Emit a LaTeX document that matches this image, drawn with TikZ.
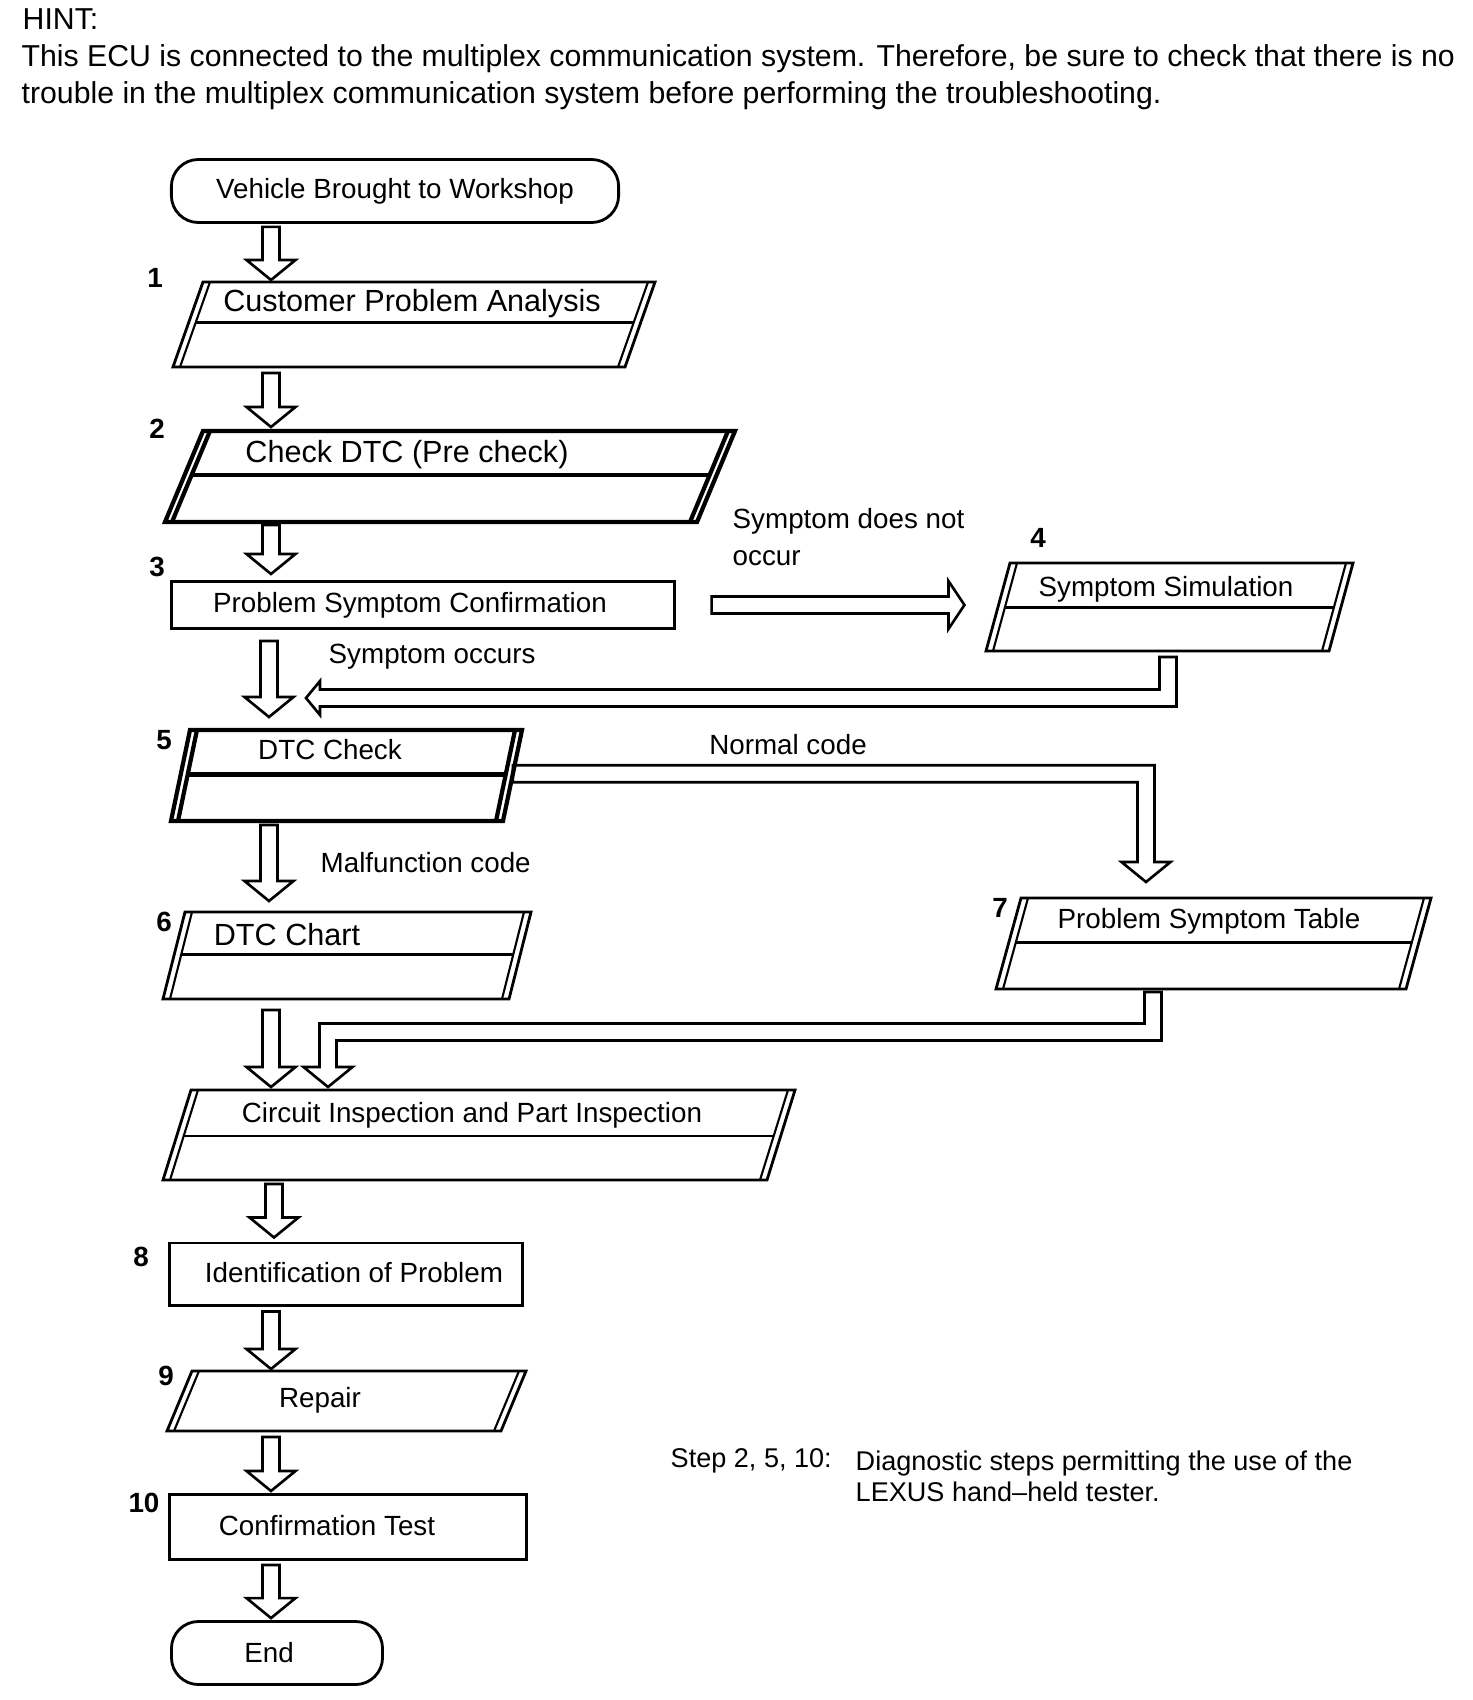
\documentclass[tikz,border=0pt]{standalone}
\usepackage{fontspec}
\setmainfont{Liberation Sans}
\usetikzlibrary{calc}

\newcommand{\hintfont}{\fontsize{8.6}{10}\selectfont}
\newcommand{\bigfont}{\fontsize{8.7}{10}\selectfont}
\newcommand{\stepfont}{\fontsize{7.9}{10.5}\selectfont}
\newcommand{\notefont}{\fontsize{7.7}{8.8}\selectfont}
\newcommand{\shafthw}{0.085cm}
\newcommand{\headhw}{0.245cm}
\newcommand{\headlen}{0.2cm}

% slanted step box: [style] name, top y, bottom y, top left x, top right x, slant
\newcommand{\slantbox}[7][]{%
  \coordinate (#2 tl) at (#5,#3);
  \coordinate (#2 tr) at (#6,#3);
  \coordinate (#2 bl) at (#5-#7,#4);
  \coordinate (#2 br) at (#6-#7,#4);
  \draw[boxline,#1] (#2 tl) -- (#2 tr) -- (#2 br) -- (#2 bl) -- cycle;
  \draw[sideline,#1] ($(#2 tl)+(7,0)$) -- ($(#2 bl)+(7,0)$);
  \draw[sideline,#1] ($(#2 tr)-(7,0)$) -- ($(#2 br)-(7,0)$);
}
% line under the title of a slanted box
\newcommand{\boxrule}[3][]{%
  \draw[boxline,#1] ($(#2 tl)!#3!(#2 bl)+(7,0)$) -- ($(#2 tr)!#3!(#2 br)-(7,0)$);
}
% hollow arrow going down: x, from, to
\newcommand{\hollowdown}[3]{%
  \draw[arrowline] let \p1=(#2), \p2=(#3), \p3=(#1,0) in
    (\x3-\shafthw,\y1) -- (\x3+\shafthw,\y1) -- (\x3+\shafthw,\y2+\headlen)
    -- (\x3+\headhw,\y2+\headlen) -- (\x3,\y2) -- (\x3-\headhw,\y2+\headlen)
    -- (\x3-\shafthw,\y2+\headlen) -- cycle;
}

\begin{document}
\begin{tikzpicture}[x=0.01cm, y=-0.01cm,
    boxline/.style={line width=0.8pt, line join=miter},
    thickbox/.style={line width=1.2pt},
    sideline/.style={line width=0.6pt},
    arrowline/.style={line width=0.75pt, line join=miter},
    terminal/.style={draw, line width=0.8pt, rounded corners=0.27cm, inner sep=0pt, font=\stepfont},
    stepbox/.style={draw, line width=0.85pt, inner sep=0pt},
    steptext/.style={inner sep=0pt, font=\stepfont},
    bigtext/.style={inner sep=0pt, font=\bigfont},
    stepnum/.style={inner sep=0pt, font=\stepfont\bfseries},
    remark/.style={inner sep=0pt, font=\stepfont, anchor=west, align=left}]
    \useasboundingbox (0,0) rectangle (1472,1700);

    % hint
    \node[anchor=base west, inner sep=0pt, font=\hintfont] (hint) at (22,30) {HINT:};
    \node[anchor=base west, inner sep=0pt, font=\hintfont] (hint line1) at (21,67)
        {This ECU is connected to the multiplex communication system. Therefore, be sure to check that there is no};
    \node[anchor=base west, inner sep=0pt, font=\hintfont] (hint line2) at (21,104)
        {trouble in the multiplex communication system before performing the troubleshooting.};

    % steps
    \node[terminal, minimum width=4.47cm, minimum height=0.63cm] (start) at (395,191) {Vehicle Brought to Workshop};
    \slantbox{b1}{282}{367}{203}{655}{30}
    \boxrule{b1}{0.48}
    \slantbox[thickbox]{b2}{431}{522}{203}{735}{38}
    \boxrule[thickbox]{b2}{0.48}
    \node[stepbox, minimum width=5.02cm, minimum height=0.47cm] (b3) at (423,605) {};
    \slantbox{b4}{563}{651}{1010}{1353}{24}
    \boxrule{b4}{0.51}
    \slantbox[thickbox]{b5}{730}{821}{190}{522}{19}
    \boxrule[thickbox]{b5}{0.49}
    \slantbox{b6}{912}{999}{185}{531}{22}
    \boxrule{b6}{0.49}
    \slantbox{b7}{898}{989}{1021}{1431}{25}
    \boxrule{b7}{0.49}
    \slantbox{bci}{1090}{1180}{191}{795}{28}
    \boxrule{bci}{0.51}
    \node[stepbox, minimum width=3.52cm, minimum height=0.62cm] (b8) at (346,1274) {};
    \slantbox{b9}{1371}{1431}{192}{526}{25}
    \node[stepbox, minimum width=3.57cm, minimum height=0.65cm] (b10) at (348,1527) {};
    \node[terminal, minimum width=2.11cm, minimum height=0.63cm] (finish) at (277,1653) {\hspace*{-0.16cm}End};

    \node[bigtext] (b1 text) at (412,304) {Customer Problem Analysis};
    \node[bigtext] (b2 text) at (407,455) {Check DTC (Pre check)};
    \node[steptext] (b3 text) at (410,605) {Problem Symptom Confirmation};
    \node[steptext] (b4 text) at (1166,589) {Symptom Simulation};
    \node[steptext] (b5 text) at (330,750) {DTC Check};
    \node[bigtext] (b6 text) at (287,935) {DTC Chart};
    \node[steptext] (b7 text) at (1209,921) {Problem Symptom Table};
    \node[steptext] (bci text) at (472,1115) {Circuit Inspection and Part Inspection};
    \node[steptext] (b8 text) at (354,1273) {Identification of Problem};
    \node[steptext] (b9 text) at (320,1400) {Repair};
    \node[steptext] (b10 text) at (327,1526) {Confirmation Test};

    \foreach \n/\px/\py in {1/155/278, 2/157/429, 3/157/567, 4/1038/538, 5/164/740,
                            6/164/922, 7/1000/908, 8/141/1257, 9/166/1376, 10/144/1503}
        \node[stepnum] (num\n) at (\px,\py) {\n};

    % straight arrows
    \foreach \sa/\sb/\ax/\ga/\gb in {start.south/b1 tl/271/3/2, b1 bl/b2 tl/271/6/4,
                                     b2 bl/b3.north/271/3/6, b3.south/b5 tl/269/11/13,
                                     b5 bl/b6 tl/269/4/11, b6 bl/bci tl/271/11/3,
                                     bci bl/b8.north/274/4/4, b8.south/b9 tl/271/5/2,
                                     b9 bl/b10.north/271/6/2, b10.south/finish.north/271/4/2}
        \hollowdown{\ax}{[shift={(0,\ga)}]\sa}{[shift={(0,-\gb)}]\sb};

    % symptom does not occur
    \draw[arrowline] let \p1=([xshift=0.36cm]b3.east), \p2=($(b4 tl)!0.48!(b4 bl)-(34,0)$) in
        (\x1,\y1+\shafthw) -- (\x2-0.16cm,\y1+\shafthw) -- (\x2-0.16cm,\y1+0.24cm) -- (\x2,\y1)
        -- (\x2-0.16cm,\y1-0.24cm) -- (\x2-0.16cm,\y1-\shafthw) -- (\x1,\y1-\shafthw) -- cycle;
    % back from simulation
    \draw[arrowline] let \p1=($(b4 bl)+(182,6)$), \p2=($(b5 tl)+(116,-32)$) in
        (\x1-\shafthw,\y1) -- (\x1+\shafthw,\y1) -- (\x1+\shafthw,\y2-\shafthw)
        -- (\x2+0.14cm,\y2-\shafthw) -- (\x2+0.14cm,\y2-0.17cm) -- (\x2,\y2)
        -- (\x2+0.14cm,\y2+0.17cm) -- (\x2+0.14cm,\y2+\shafthw) -- (\x1-\shafthw,\y2+\shafthw) -- cycle;
    % normal code
    \draw[arrowline] let \p1=($(b5 tr)!0.48!(b5 br)$), \p2=($(b7 tl)+(125,-16)$) in
        (\x1,\y1+\shafthw) -- (\x2+\shafthw,\y1+\shafthw) -- (\x2+\shafthw,\y2+\headlen)
        -- (\x2+\headhw,\y2+\headlen) -- (\x2,\y2) -- (\x2-\headhw,\y2+\headlen)
        -- (\x2-\shafthw,\y2+\headlen) -- (\x2-\shafthw,\y1-\shafthw) -- (\x1,\y1-\shafthw) -- cycle;
    % from symptom table
    \draw[arrowline] let \p1=($(b7 bl)+(157,3)$), \p2=($(bci tl)+(0,-58)$), \p3=($(bci tl)+(137,-3)$) in
        (\x1-\shafthw,\y1) -- (\x1+\shafthw,\y1) -- (\x1+\shafthw,\y2-\shafthw)
        -- (\x3+\shafthw,\y2-\shafthw) -- (\x3+\shafthw,\y3+\headlen) -- (\x3+\headhw,\y3+\headlen)
        -- (\x3,\y3) -- (\x3-\headhw,\y3+\headlen) -- (\x3-\shafthw,\y3+\headlen)
        -- (\x3-\shafthw,\y2+\shafthw) -- (\x1-\shafthw,\y2+\shafthw) -- cycle;

    % arrow labels
    \node[remark] (not occur) at (732,537) {Symptom does not\\occur};
    \node[remark] (occurs) at (328,657) {Symptom occurs};
    \node[steptext] (normal) at (788,745) {Normal code};
    \node[remark] (malfunction) at (320,863) {Malfunction code};

    % note
    \node[remark, font=\notefont] (note key) at (670,1461) {Step 2, 5, 10:};
    \node[remark, font=\notefont] (note text) at (855,1476)
        {Diagnostic steps permitting the use of the\\LEXUS hand--held tester.};
\end{tikzpicture}
\end{document}
